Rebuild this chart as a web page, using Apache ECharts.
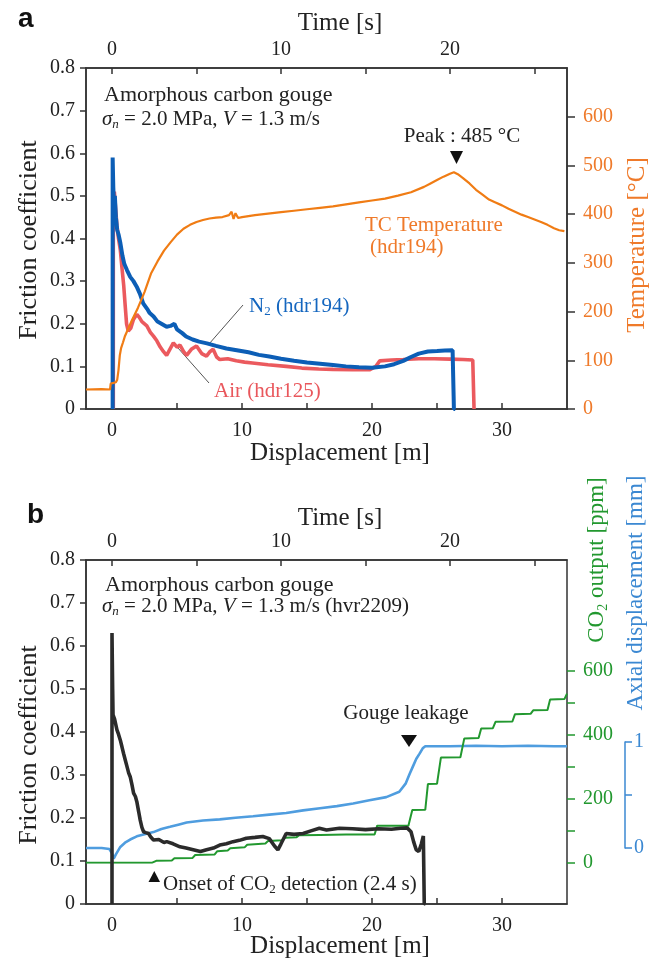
<!DOCTYPE html>
<html>
<head>
<meta charset="utf-8">
<script src="https://cdn.jsdelivr.net/npm/echarts@6/dist/echarts.min.js"></script>
<style>
html,body{margin:0;padding:0;background:#fff;}
#main{width:649px;height:960px;}
</style>
</head>
<body>
<div id="main"></div>
<script>
// panel a : friction (N2, air) and TC temperature vs displacement [m]
var n2Data = [[0.05,0],[0.05,0.59],[0.1,0.52],[0.15,0.48],[0.22,0.5],[0.3,0.45],[0.4,0.42],[0.5,0.41],[0.64,0.39],[0.8,0.36],[0.95,0.34],[1.15,0.326],[1.4,0.31],[1.65,0.3],[1.9,0.287],[2.15,0.27],[2.4,0.248],[2.7,0.235],[2.9,0.225],[3.2,0.217],[3.5,0.205],[3.8,0.2],[4.2,0.193],[4.5,0.195],[4.8,0.2],[5.0,0.187],[5.4,0.178],[5.7,0.17],[6.2,0.163],[6.7,0.158],[7.3,0.154],[8.0,0.148],[8.8,0.142],[9.6,0.138],[10.5,0.133],[11.3,0.127],[12.1,0.123],[13,0.118],[14,0.113],[15,0.109],[16,0.106],[17,0.103],[18,0.1],[19,0.098],[20,0.097],[21,0.1],[21.7,0.105],[22.4,0.113],[23,0.122],[23.6,0.13],[24.3,0.135],[25,0.136],[25.6,0.137],[26.2,0.138],[26.28,0.03],[26.3,0],[26.4,0]];
var airData = [[0.1,0],[0.1,0.48],[0.18,0.51],[0.28,0.47],[0.38,0.43],[0.5,0.4],[0.64,0.373],[0.77,0.33],[0.9,0.29],[1.02,0.24],[1.12,0.2],[1.25,0.183],[1.45,0.19],[1.65,0.21],[1.91,0.222],[2.1,0.215],[2.3,0.205],[2.68,0.195],[2.95,0.18],[3.19,0.171],[3.45,0.16],[3.7,0.146],[3.95,0.135],[4.2,0.126],[4.45,0.14],[4.72,0.155],[5.0,0.145],[5.23,0.15],[5.5,0.135],[5.74,0.126],[6.1,0.14],[6.5,0.148],[6.9,0.13],[7.27,0.124],[7.55,0.135],[7.78,0.14],[8.05,0.122],[8.29,0.116],[8.9,0.118],[9.56,0.113],[10.2,0.11],[10.8,0.108],[12,0.104],[13.4,0.1],[14.6,0.096],[15.9,0.094],[17,0.093],[18.5,0.092],[19.8,0.092],[20.3,0.1],[20.6,0.113],[21.5,0.115],[22.4,0.116],[23.6,0.118],[24.8,0.118],[26,0.117],[27,0.116],[27.75,0.115],[27.85,0],[27.9,0]];
var tempData = [[-2,40],[-0.8,41],[-0.15,40],[-0.1,52],[0.3,55],[0.4,60],[0.5,80],[0.6,110],[0.7,125],[0.85,137],[1.0,150],[1.5,180],[2.0,208],[2.5,240],[3.0,278],[3.5,303],[4.0,325],[4.5,342],[5.0,358],[5.5,370],[6.0,378],[6.5,384],[7.0,388],[7.5,391],[8.0,393],[8.5,394],[9.0,398],[9.2,405],[9.35,390],[9.5,402],[9.7,392],[10,394],[10.5,396],[11,398],[12,401],[13,404],[14,407],[15,410],[16,413],[17,416],[18,420],[19,424],[20,428],[21,432],[22,438],[23,445],[24,456],[24.5,463],[25,470],[25.5,477],[26,483],[26.3,486],[26.6,482],[27,474],[27.5,463],[28,450],[28.5,440],[29,430],[29.5,424],[30,418],[30.5,411],[31,405],[31.5,399],[32,394],[32.5,389],[33,384],[33.5,378],[34,371],[34.4,367],[34.8,365]];

// panel b : friction, CO2 output, axial displacement (hvr2209)
var fricData = [[0,0],[0,0.63],[0.05,0.5],[0.08,0.44],[0.2,0.43],[0.38,0.405],[0.5,0.395],[0.64,0.381],[0.77,0.365],[0.89,0.35],[1.02,0.335],[1.15,0.32],[1.28,0.305],[1.4,0.296],[1.53,0.278],[1.66,0.258],[1.8,0.25],[1.91,0.238],[2.05,0.215],[2.17,0.195],[2.3,0.178],[2.43,0.168],[2.6,0.166],[2.81,0.164],[3.0,0.155],[3.19,0.149],[3.6,0.15],[4.0,0.143],[4.21,0.145],[4.7,0.14],[5.23,0.133],[5.7,0.13],[6.25,0.126],[6.8,0.122],[7.27,0.126],[7.8,0.13],[8.29,0.137],[8.8,0.14],[9.31,0.145],[9.8,0.148],[10.33,0.153],[11.0,0.155],[11.6,0.157],[12.1,0.152],[12.5,0.135],[12.76,0.126],[13.0,0.14],[13.4,0.164],[14.0,0.162],[14.7,0.164],[15.3,0.17],[15.95,0.176],[16.5,0.172],[17.5,0.176],[18.5,0.175],[19.5,0.173],[20.5,0.175],[21.5,0.174],[22.2,0.176],[22.7,0.177],[23.0,0.168],[23.2,0.145],[23.4,0.126],[23.6,0.122],[23.8,0.14],[23.95,0.158],[24.0,0.155],[24.02,0],[24.1,0]];
var co2Data = [[-2,0],[3.1,0],[3.4,6],[4.6,7],[4.8,14],[6.2,15],[6.4,24],[7.9,26],[8.1,36],[8.9,38],[9.1,45],[10.2,48],[10.4,56],[11.8,60],[12.0,68],[13.1,70],[13.3,78],[14.2,80],[14.4,86],[16,87],[18,88],[20.2,88],[20.4,116],[22.8,116],[23.1,165],[24.1,166],[24.3,246],[25.0,247],[25.3,329],[26.8,330],[27.1,389],[28.2,390],[28.4,420],[29.3,421],[29.5,441],[30.8,442],[31.0,465],[32.2,466],[32.4,477],[33.5,478],[33.7,511],[34.8,512],[35,529]];
var axialData = [[-2,0],[-0.8,0],[-0.2,-0.01],[0,-0.05],[0.13,-0.1],[0.3,-0.06],[0.64,0.01],[1.0,0.05],[1.4,0.08],[1.91,0.11],[2.5,0.13],[3.19,0.15],[3.8,0.18],[4.46,0.2],[5.1,0.22],[5.74,0.24],[7.0,0.26],[8.29,0.27],[9.5,0.285],[10.85,0.3],[12.1,0.315],[13.4,0.33],[14.7,0.355],[16,0.375],[17.3,0.395],[18.55,0.42],[19.8,0.45],[21.1,0.48],[22.1,0.53],[22.6,0.61],[22.9,0.7],[23.15,0.77],[23.4,0.84],[23.66,0.89],[23.9,0.94],[24.1,0.96],[26,0.96],[28,0.965],[30,0.96],[32,0.965],[34,0.96],[35,0.96]];

// ticks / labels
var dispTicks = [0,5,10,15,20,25,30];
var dispLabels = [0,10,20,30];
var timeTicks = [0,5,10,15,20,25];
var timeLabels = [0,10,20];
var tempTicks = [0,100,200,300,400,500,600];
var co2Ticks = [0,100,200,300,400,500,600];
var co2Labels = [0,200,400,600];
var axialTicks = [0,0.5,1];
var axialLabels = [0,1];
var VEL = 1.3; // m/s, displacement -> time

var FONT = 'Liberation Serif';
var AX = {color:'#333', width:1.5};
var ORANGE = '#f07c14', ORANGE_T = '#ef7a2a';
var GREEN = '#22982f', LBLUE = '#4f9ddf', BLUE_AX = '#3b88d2';

function dispAxis(g){
    return {type:'value', gridIndex:g, position:'bottom', min:-2, max:35,
        axisLine:{show:true, onZero:false, lineStyle:AX},
        axisTick:{show:true, inside:true, length:6, customValues:dispTicks, lineStyle:AX},
        axisLabel:{customValues:dispLabels, margin:12, fontFamily:FONT, fontSize:20, color:'#222'},
        splitLine:{show:false}};
}
function timeAxis(g){
    return {type:'value', gridIndex:g, position:'top', min:-2/VEL, max:35/VEL,
        axisLine:{show:true, onZero:false, lineStyle:AX},
        axisTick:{show:true, inside:true, length:6, customValues:timeTicks, lineStyle:AX},
        axisLabel:{customValues:timeLabels, margin:8, fontFamily:FONT, fontSize:20, color:'#222'},
        splitLine:{show:false}};
}
function fricAxis(g){
    return {type:'value', gridIndex:g, position:'left', min:0, max:0.8, interval:0.1,
        axisLine:{show:true, onZero:false, lineStyle:AX},
        axisTick:{show:true, inside:false, length:6, lineStyle:AX},
        axisLabel:{margin:11, fontFamily:FONT, fontSize:20, color:'#222'},
        splitLine:{show:false}};
}
function txt(x, y, s, opt){
    opt = opt || {};
    return {type:'text', x:x, y:y, rotation:opt.rot || 0, silent:true,
        style:{text:s, fontFamily:opt.family || FONT, fontSize:opt.size || 21, fontWeight:opt.weight || 'normal',
            fill:opt.color || '#222', align:opt.align || 'left', verticalAlign:'middle', rich:opt.rich}};
}
function richSet(size, color){
    return {
        r:{fontFamily:FONT, fontSize:size, fill:color, color:color, lineHeight:size+4, verticalAlign:'middle'},
        i:{fontFamily:FONT, fontSize:size, fontStyle:'italic', fill:color, color:color, lineHeight:size+4, verticalAlign:'middle'},
        s:{fontFamily:FONT, fontSize:Math.round(size*0.62), fill:color, color:color, lineHeight:size+4, verticalAlign:'bottom'},
        si:{fontFamily:FONT, fontSize:Math.round(size*0.62), fontStyle:'italic', fill:color, color:color, lineHeight:size+4, verticalAlign:'bottom'}
    };
}

var myChart = echarts.init(document.getElementById('main'));

var option = {
    animation:false,
    backgroundColor:'#fff',
    grid:[
        {left:86, right:82, top:68, height:341, show:true, borderColor:'#333', borderWidth:1.5},
        {left:86, right:82, top:560, height:344, show:true, borderColor:'#333', borderWidth:1.5},
        {left:86, right:82, top:671, height:191.7},
        {left:86, right:82, top:742, height:106}
    ],
    xAxis:[
        dispAxis(0), timeAxis(0), dispAxis(1), timeAxis(1),
        {type:'value', gridIndex:2, min:-2, max:35, show:false},
        {type:'value', gridIndex:3, min:-2, max:35, show:false}
    ],
    yAxis:[
        fricAxis(0),
        {type:'value', gridIndex:0, position:'right', min:0, max:700,
            axisLine:{show:true, onZero:false, lineStyle:AX},
            axisTick:{show:true, length:8, customValues:tempTicks, lineStyle:AX},
            axisLabel:{customValues:tempTicks, margin:16, fontFamily:FONT, fontSize:20, color:ORANGE_T},
            splitLine:{show:false}},
        fricAxis(1),
        {type:'value', gridIndex:2, position:'right', min:0, max:600,
            axisLine:{show:false, onZero:false},
            axisTick:{show:true, length:8, customValues:co2Ticks, lineStyle:{color:GREEN, width:1.5}},
            axisLabel:{customValues:co2Labels, margin:16, fontFamily:FONT, fontSize:20, color:GREEN},
            splitLine:{show:false}},
        {type:'value', gridIndex:3, position:'right', offset:58, min:0, max:1,
            axisLine:{show:true, onZero:false, lineStyle:{color:BLUE_AX, width:1.5}},
            axisTick:{show:true, length:7, customValues:axialTicks, lineStyle:{color:BLUE_AX, width:1.5}},
            axisLabel:{customValues:axialLabels, margin:9, fontFamily:FONT, fontSize:20, color:BLUE_AX},
            splitLine:{show:false}}
    ],
    series:[
        {name:'Air (hdr125)', type:'line', xAxisIndex:0, yAxisIndex:0, data:airData, showSymbol:false,
            lineStyle:{color:'#eb5a5e', width:3.6}, z:2},
        {name:'N2 (hdr194)', type:'line', xAxisIndex:0, yAxisIndex:0, data:n2Data, showSymbol:false,
            lineStyle:{color:'#0c5eb6', width:4}, z:3},
        {name:'TC Temperature', type:'line', xAxisIndex:0, yAxisIndex:1, data:tempData, showSymbol:false,
            lineStyle:{color:ORANGE, width:2.2}, z:4},
        {name:'Axial displacement', type:'line', xAxisIndex:5, yAxisIndex:4, data:axialData, showSymbol:false, clip:false,
            lineStyle:{color:LBLUE, width:2.6}, z:2},
        {name:'CO2 output', type:'line', xAxisIndex:4, yAxisIndex:3, data:co2Data, showSymbol:false,
            lineStyle:{color:GREEN, width:2}, z:3},
        {name:'Friction', type:'line', xAxisIndex:2, yAxisIndex:2, data:fricData, showSymbol:false,
            lineStyle:{color:'#2b2b2b', width:3.6}, z:4}
    ],
    graphic:[
        // panel a
        txt(18, 19, 'a', {family:'Liberation Sans', size:28, weight:'bold', color:'#111'}),
        txt(340, 23, 'Time [s]', {size:25, align:'center'}),
        txt(340, 453, 'Displacement [m]', {size:25, align:'center'}),
        txt(29, 240, 'Friction coefficient', {size:26, align:'center', rot:Math.PI/2}),
        txt(637, 245, 'Temperature [°C]', {size:25, align:'center', rot:Math.PI/2, color:ORANGE_T}),
        txt(104, 95, 'Amorphous carbon gouge', {size:22}),
        txt(102, 119, '{i|σ}{si|n}{r| = 2.0 MPa, }{i|V}{r| = 1.3 m/s}', {rich:richSet(21,'#222')}),
        txt(462, 136, 'Peak : 485 °C', {size:21, align:'center'}),
        {type:'polygon', silent:true, shape:{points:[[450,151],[463,151],[456.5,164]]}, style:{fill:'#111'}},
        txt(365, 225, 'TC Temperature', {color:ORANGE_T}),
        txt(370, 247, '(hdr194)', {color:ORANGE_T}),
        txt(249, 306, '{r|N}{s|2}{r| (hdr194)}', {rich:richSet(21,'#1466bf')}),
        txt(214, 391, 'Air (hdr125)', {color:'#e9575c'}),
        {type:'line', silent:true, shape:{x1:243, y1:305, x2:209, y2:344}, style:{stroke:'#555', lineWidth:1}},
        {type:'line', silent:true, shape:{x1:209, y1:383, x2:178, y2:348}, style:{stroke:'#555', lineWidth:1}},
        // panel b
        txt(27, 515, 'b', {family:'Liberation Sans', size:28, weight:'bold', color:'#111'}),
        txt(340, 518, 'Time [s]', {size:25, align:'center'}),
        txt(340, 946, 'Displacement [m]', {size:25, align:'center'}),
        txt(29, 745, 'Friction coefficient', {size:26, align:'center', rot:Math.PI/2}),
        txt(105, 585, 'Amorphous carbon gouge', {size:22}),
        txt(102, 606, '{i|σ}{si|n}{r| = 2.0 MPa, }{i|V}{r| = 1.3 m/s (hvr2209)}', {rich:richSet(21,'#222')}),
        txt(406, 713, 'Gouge leakage', {size:21, align:'center'}),
        {type:'polygon', silent:true, shape:{points:[[401,735],[417,735],[409,747]]}, style:{fill:'#111'}},
        {type:'polygon', silent:true, shape:{points:[[148.5,882],[160,882],[154.3,871]]}, style:{fill:'#111'}},
        txt(163, 884, '{r|Onset of CO}{s|2}{r| detection (2.4 s)}', {rich:richSet(21,'#222')}),
        txt(597, 560, '{r|CO}{s|2}{r| output [ppm]}', {align:'center', rot:Math.PI/2, rich:richSet(23, GREEN)}),
        txt(636, 593, 'Axial displacement [mm]', {size:23, align:'center', rot:Math.PI/2, color:BLUE_AX})
    ]
};

myChart.setOption(option);
</script>
</body>
</html>
